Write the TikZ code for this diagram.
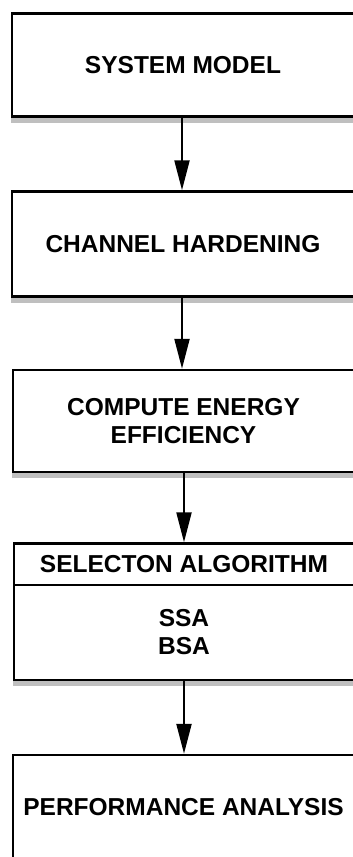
\documentclass[tikz,border=0pt]{standalone}
\usepackage{fontspec}
\setmainfont{Liberation Sans}
\usetikzlibrary{arrows.meta,shadows}
\begin{document}
\begin{tikzpicture}[x=1pt,y=-1pt,
  blok/.style={draw, line width=2.5pt, fill=white, inner sep=0pt, align=center,
    font=\fontsize{24.5}{28}\selectfont\bfseries},
  shade/.style={drop shadow={shadow xshift=-1.5pt, shadow yshift=-6pt, fill=black!25, opacity=1}},
  flow/.style={line width=2.2pt, -{Triangle[width=15pt,length=30pt]}}]
\useasboundingbox (0,0) rectangle (353,857);
\clip (0,0) rectangle (353,857);
%
\node[blok,shade,minimum width=342pt,minimum height=103pt] (model) at (183,65) {SYSTEM MODEL};
\node[blok,shade,minimum width=342pt,minimum height=105pt] (hard) at (183,244) {CHANNEL HARDENING};
\node[blok,shade,minimum width=341pt,minimum height=102pt] (energy) at (183.5,421) {COMPUTE ENERGY\\EFFICIENCY};
\node[blok,shade,minimum width=340pt,minimum height=95pt] (algo) at (184,632.5) {SSA\\BSA};
\node[blok,minimum width=340pt,minimum height=41.5pt] (algohead) at (184,564.25) {SELECTON ALGORITHM};
\node[blok,shade,minimum width=341pt,minimum height=104pt] (perf) at (183.5,807) {PERFORMANCE ANALYSIS};
%
\draw[flow] (model.south -| 182,0) -- (hard.north -| 182,0);
\draw[flow] (hard.south -| 182,0) -- (energy.north -| 182,0);
\draw[flow] (energy.south -| 184,0) -- (algohead.north -| 184,0);
\draw[flow] (algo.south -| 184,0) -- (perf.north -| 184,0);
%
\end{tikzpicture}
\end{document}
